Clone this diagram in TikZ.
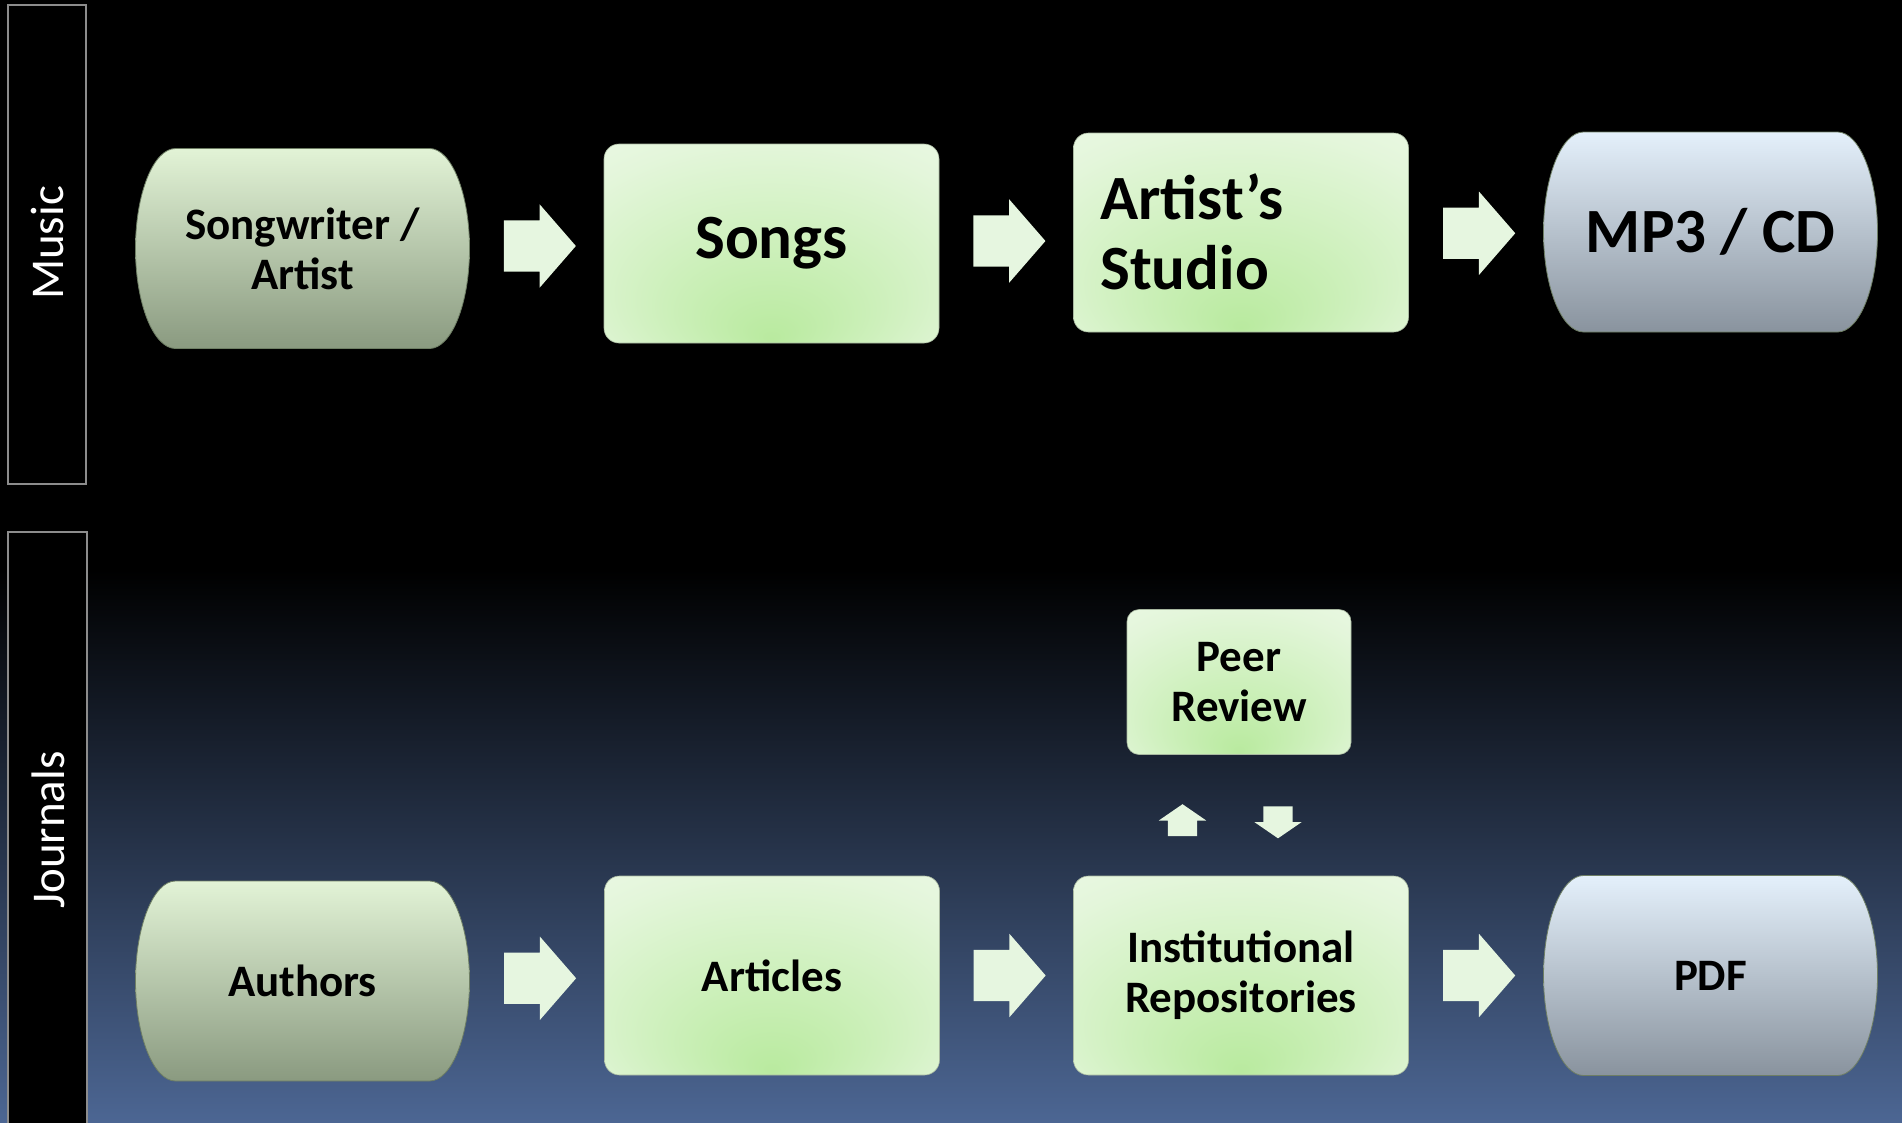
\documentclass[tikz,border=0pt]{standalone}
\usepackage{fontspec}
\setmainfont{Carlito}
\usetikzlibrary{shapes.arrows,calc}
\definecolor{bgbot}{HTML}{4C6693}
\definecolor{glowA}{HTML}{B9EA9F}
\definecolor{glowB}{HTML}{CDF0BB}
\definecolor{glowC}{HTML}{E4F6DB}
\definecolor{glowD}{HTML}{F1FBEE}
\definecolor{greentop}{HTML}{E2F3D6}
\definecolor{greenbot}{HTML}{8A9A80}
\definecolor{bluetop}{HTML}{E4F0FB}
\definecolor{bluebot}{HTML}{89939E}
\definecolor{arrowc}{HTML}{E6F6E0}
\definecolor{laneedge}{HTML}{8C8C8C}
\definecolor{boxedge}{HTML}{6E7E64}
\definecolor{rboxedge}{HTML}{A8B8A0}
\pgfdeclareradialshading{boxglow}{\pgfpoint{0bp}{-24bp}}{color(0bp)=(glowA); color(16bp)=(glowB); color(34bp)=(glowC); color(50bp)=(glowD)}
\pgfdeclareverticalshading{bgshade}{100bp}{color(0bp)=(bgbot); color(25bp)=(bgbot); color(49.6bp)=(black); color(75bp)=(black); color(100bp)=(black)}
\newcommand\barrelshape[3]{%
 \shade[#3] ({#1-127},{#2-100}) -- ({#1+127},{#2-100})
   .. controls ({#1+149},{#2-100}) and ({#1+167},{#2-55}) .. ({#1+167},{#2})
   .. controls ({#1+167},{#2+55}) and ({#1+149},{#2+100}) .. ({#1+127},{#2+100})
   -- ({#1-127},{#2+100})
   .. controls ({#1-149},{#2+100}) and ({#1-167},{#2+55}) .. ({#1-167},{#2})
   .. controls ({#1-167},{#2-55}) and ({#1-149},{#2-100}) .. cycle;}
\tikzset{
  rbox/.style={rounded corners=15pt, shade, shading=boxglow, draw=rboxedge, line width=0.6pt,
    minimum width=335pt, minimum height=199pt, inner sep=0pt, align=center, text=black},
  txtM/.style={font=\fontsize{45}{50}\selectfont\bfseries},
  txtL/.style={font=\fontsize{63}{70}\selectfont\bfseries},
  bnode/.style={minimum width=334pt, minimum height=200pt, inner sep=0pt, align=center, text=black},
  greenbarrel/.style={top color=greentop, bottom color=greenbot, draw=boxedge, line width=0.8pt},
  bluebarrel/.style={top color=bluetop, bottom color=bluebot, draw=boxedge, line width=0.8pt},
  blockarrow/.style={single arrow, single arrow head extend=16pt, single arrow tip angle=98,
    minimum width=83pt, minimum height=72pt, inner xsep=0pt, inner ysep=25.5pt, fill=arrowc},
  smallarrow/.style={single arrow, single arrow head extend=9pt, single arrow tip angle=111,
    minimum width=47pt, minimum height=32pt, inner xsep=0pt, inner ysep=14.5pt, fill=arrowc},
  lane/.style={draw=laneedge, line width=2pt, fill=black, inner sep=0pt},
  lanetext/.style={text=white, rotate=90, font=\fontsize{47}{50}\selectfont, inner sep=0pt}
}
\begin{document}
\begin{tikzpicture}[x=1pt,y=-1pt]
\useasboundingbox (0,0) rectangle (1902,1122);
\path[shade, shading=bgshade] (0,0) rectangle (1902,1122);

% lanes
\node[lane, minimum width=78pt, minimum height=479pt] (music) at (47,244.5) {};
\node[lanetext] (musiclabel) at (47.5,243) {Music};
\node[lane, minimum width=79pt, minimum height=600pt] (journals) at (47.5,832) {};
\node[lanetext] (journalslabel) at (48.5,830) {Journals};

% music row
\barrelshape{302.5}{248.5}{greenbarrel}
\node[bnode, txtM] (sw) at (302.5,248.5) {Songwriter /\\Artist};
\node[rbox, txtL] (songs) at (771.5,243.5) {Songs};
\node[rbox] (studio) at (1241,232.5) {};
\node[txtL, align=left, anchor=west, inner sep=0pt] (studiotxt) at (1100,232) {Artist’s\\Studio};
\barrelshape{1710.5}{232}{bluebarrel}
\node[bnode, txtL] (mp3) at (1710.5,232) {MP3 / CD};

\node[blockarrow] (a1) at ($(sw.east)!0.5!(songs.west)+(-8,0)$) {};
\node[blockarrow] (a2) at ($(songs.east)!0.5!(studio.west)+(-8,3)$) {};
\node[blockarrow] (a3) at ($(studio.east)!0.5!(mp3.west)+(-8,1)$) {};

% journals row
\barrelshape{302.5}{981}{greenbarrel}
\node[bnode, txtM] (authors) at (302.5,981) {Authors};
\node[rbox, txtM] (articles) at (772,975.5) {Articles};
\node[rbox, txtM] (inst) at (1241,975.5) {Institutional\\Repositories};
\barrelshape{1710.5}{975.5}{bluebarrel}
\node[bnode, txtM] (pdf) at (1710.5,975.5) {PDF};
\node[rbox, txtM, rounded corners=12pt, minimum width=224pt, minimum height=145pt] (peer) at (1239,682) {Peer\\Review};

\node[blockarrow] (b1) at ($(authors.east)!0.5!(articles.west)+(-8,0)$) {};
\node[blockarrow] (b2) at ($(articles.east)!0.5!(inst.west)+(-8,0)$) {};
\node[blockarrow] (b3) at ($(inst.east)!0.5!(pdf.west)+(-8,0)$) {};

\node[smallarrow, rotate=90] (up) at ($(inst.north)!0.5!(peer.south)+(-57.5,10)$) {};
\node[smallarrow, rotate=-90] (down) at ($(inst.north)!0.5!(peer.south)+(38,2)$) {};
\end{tikzpicture}
\end{document}
